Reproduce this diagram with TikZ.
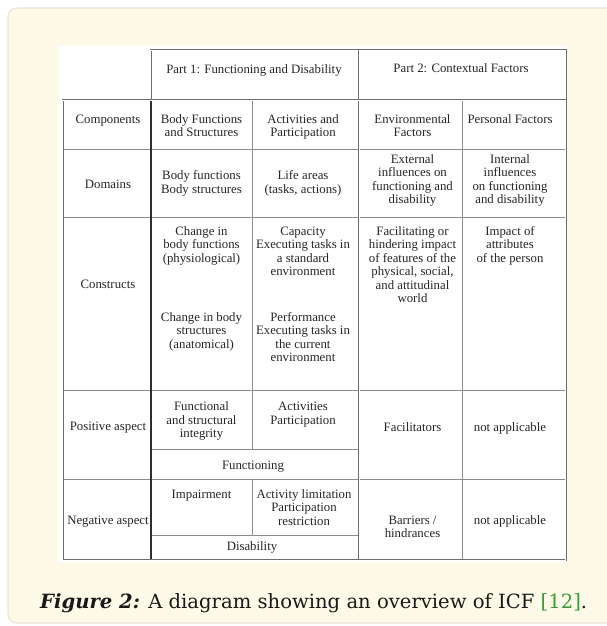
\documentclass[tikz,border=0pt]{standalone}
\usepackage{fontspec}
\setmainfont{Liberation Serif}
\newfontfamily\icfcapfont{DejaVu Serif}
\definecolor{creambg}{HTML}{FDFAE8}
\definecolor{creamborder}{HTML}{E9E6D8}
\definecolor{txtc}{HTML}{262626}
\definecolor{gridc}{HTML}{8C8C8C}
\definecolor{gridd}{HTML}{6E6E6E}
\definecolor{darkc}{HTML}{2E2E2E}
\definecolor{capgreen}{HTML}{3C9A3C}
\newcommand\icftabfont{\fontsize{12.8}{13.5}\selectfont}
\begin{document}
\begin{tikzpicture}[x=1pt,y=-1pt,
  cell/.style={font=\icftabfont, text=txtc, align=center, inner sep=0pt, anchor=base},
  gridline/.style={draw=gridc, line width=0.9pt},
  dblline/.style={draw=gridd, line width=0.6pt, double=white, double distance=0.9pt},
  darkline/.style={draw=darkc, line width=1.3pt}]
\useasboundingbox (0,0) rectangle (607,626);
\fill[white] (0,0) rectangle (607,626);
\path[fill=creambg, draw=creamborder, line width=1.2pt, rounded corners=9pt] (8,8) rectangle (630,623);
% white table background
\fill[white] (58,46) rectangle (567,562);
% internal grid
\draw[gridline] (62.7,149) -- (565.7,149);
\draw[gridline] (62.7,217) -- (565.7,217);
\draw[gridline] (62.7,390.7) -- (565.7,390.7);
\draw[gridline] (62.7,479.3) -- (565.7,479.3);
\draw[gridline] (151,449.3) -- (359,449.3);
\draw[gridline] (151,535) -- (359,535);
\draw[gridline] (252.3,100) -- (252.3,449.3);
\draw[gridline] (252.3,479.3) -- (252.3,535);
\draw[gridline] (462.7,100) -- (462.7,560);
\draw[darkline] (151,100) -- (151,560);
\draw[dblline] (359,100) -- (359,560);
% borders
\draw[dblline] (150.7,50) rectangle (359,100);
\draw[dblline] (359,50) rectangle (565.7,100);
\draw[dblline] (62.7,100) rectangle (565.7,560);
% header
\node[cell] (h1) at (254,74) {Part 1: Functioning and Disability};
\node[cell] (h2) at (461,73) {Part 2: Contextual Factors};
% components
\node[cell] (r1a) at (108,123) {Components};
\node[cell] (r1b) at (201.5,136.5) {Body Functions\\and Structures};
\node[cell] (r1c) at (303,136.5) {Activities and\\Participation};
\node[cell] (r1d) at (412.5,136.5) {Environmental\\Factors};
\node[cell] (r1e) at (510,123) {Personal Factors};
% domains
\node[cell] (r2a) at (108,188) {Domains};
\node[cell] (r2b) at (201.5,193.2) {Body functions\\Body structures};
\node[cell] (r2c) at (303,193.2) {Life areas\\(tasks, actions)};
\node[cell] (r2d) at (412.5,203.5) {External\\influences on\\functioning and\\disability};
\node[cell] (r2e) at (510,203.5) {Internal\\influences\\on functioning\\and disability};
% constructs
\node[cell] (r3a) at (108,288.3) {Constructs};
\node[cell] (r3b) at (201.5,262) {Change in\\body functions\\(physiological)};
\node[cell] (r3bb) at (201.5,348.3) {Change in body\\structures\\(anatomical)};
\node[cell] (r3c) at (303,275.5) {Capacity\\Executing tasks in\\a standard\\environment};
\node[cell] (r3cc) at (303,361.8) {Performance\\Executing tasks in\\the current\\environment};
\node[cell] (r3d) at (412.5,302.5) {Facilitating or\\hindering impact\\of features of the\\physical, social,\\and attitudinal\\world};
\node[cell] (r3e) at (510,262) {Impact of\\attributes\\of the person};
% positive
\node[cell] (r4a) at (108,430.7) {Positive aspect};
\node[cell] (r4b) at (201.5,437.7) {Functional\\and structural\\integrity};
\node[cell] (r4c) at (303,424.2) {Activities\\Participation};
\node[cell] (r4f) at (253,469) {Functioning};
\node[cell] (r4d) at (412.5,431.3) {Facilitators};
\node[cell] (r4e) at (510,431.3) {not applicable};
% negative
\node[cell] (r5a) at (108,524.7) {Negative aspect};
\node[cell] (r5b) at (201.5,498) {Impairment};
\node[cell] (r5c) at (304,525) {Activity limitation\\Participation\\restriction};
\node[cell] (r5f) at (252,550.7) {Disability};
\node[cell] (r5d) at (412.5,537.5) {Barriers /\\hindrances};
\node[cell] (r5e) at (510,524.7) {not applicable};
% caption
\node[anchor=base west, inner sep=0pt, text=black!90, font=\icfcapfont\fontsize{19.6}{22}\selectfont] (cap) at (40,608)
  {{\bfseries\itshape Figure 2:} A diagram showing an overview of ICF \textcolor{capgreen}{[12]}.};
\end{tikzpicture}
\end{document}
